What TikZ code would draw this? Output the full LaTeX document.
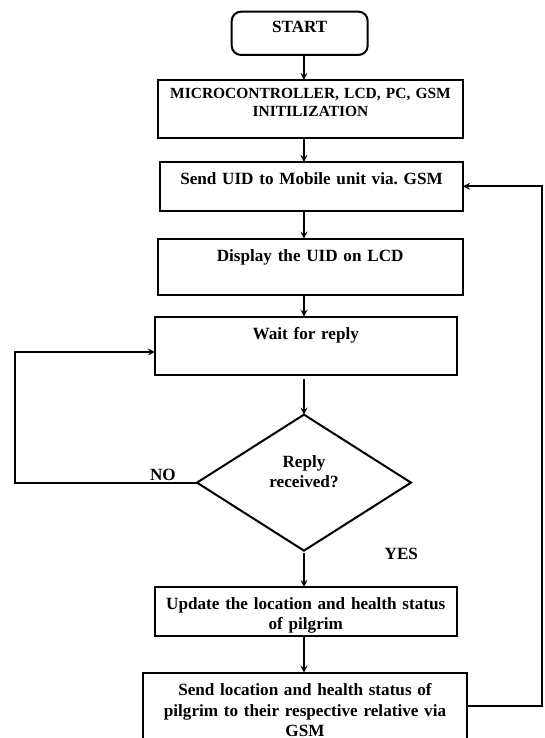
\documentclass[tikz,border=0pt]{standalone}
\usepackage{fontspec}
\setmainfont{Liberation Serif}
\usepackage{tikz}
\usetikzlibrary{shapes.geometric,arrows,positioning}
\tikzstyle{startstop} = [rectangle, rounded corners=7pt, text width=102pt, align=center, inner sep=0pt, outer sep=0pt, text height=15.5pt, text depth=17pt, draw=black, line width=1.5pt, font=\fontsize{12.86}{15.2}\selectfont\bfseries]
\tikzstyle{process} = [rectangle, align=center, inner sep=0pt, outer sep=0pt, text height=17pt, draw=black, line width=1.5pt, font=\fontsize{12.86}{15.2}\selectfont\bfseries]
\tikzstyle{decision} = [diamond, aspect=1.57, minimum width=160.5pt, minimum height=102pt, text width=70pt, align=center, inner sep=0pt, outer sep=0pt, text height=10pt, text depth=33pt, draw=black, line width=1.5pt, font=\fontsize{12.86}{15.2}\selectfont\bfseries]
\tikzstyle{lbl} = [inner sep=0pt, font=\fontsize{12.86}{15.2}\selectfont\bfseries]
\tikzstyle{arrow} = [line width=1.3pt,->,>=stealth]

\begin{document}
\frenchspacing
\begin{tikzpicture}[x=0.75pt,y=-0.75pt]
\useasboundingbox (0,0) rectangle (544,738);
\clip (0,0) rectangle (544,738);
\node (start) [startstop] at (299.7,33.3) {START};
\node (init) [process, text width=228.3pt, text height=14pt, text depth=29.5pt, font=\fontsize{11.6}{13.5}\selectfont\bfseries, below=18.75pt of start, xshift=8.1pt] {MICROCONTROLLER, LCD, PC, GSM\\ INITILIZATION};
\node (send) [process, text width=227.25pt, text depth=19.5pt, below=18pt of init, xshift=0.75pt] {Send UID to Mobile unit via. GSM};
\node (disp) [process, text width=228.75pt, text depth=25.2pt, below=21pt of send, xshift=-1pt] {Display the UID on LCD};
\node (wait) [process, text width=226.3pt, text depth=26.5pt, below=16.3pt of disp, xshift=-3.3pt] {Wait for reply};
\node (dec) [decision, below=30pt of wait, xshift=-1.35pt] {Reply\\ received?};
\node (upd) [process, text width=226.3pt, text height=16.8pt, text depth=20.25pt, below=27.2pt of dec, xshift=1.35pt] {Update the location and health status\\ of pilgrim};
\node (sendloc) [process, text width=243pt, text height=17.5pt, text depth=47.7pt, below=27.2pt of upd, xshift=-0.6pt] {Send location and health status of\\ pilgrim to their respective relative via\\ GSM};
\node (no) [lbl] at ([xshift=-25.5pt,yshift=5.5pt]dec.west) {NO};
\node (yes) [lbl] at ([xshift=73pt,yshift=-2.5pt]dec.south) {YES};
\coordinate (back) at (541.7,706);
\coordinate (noleft) at (15,352);

\draw[arrow] (start.south -| dec.north) -- (init.north -| dec.north);
\draw[arrow] (init.south -| dec.north) -- (send.north -| dec.north);
\draw[arrow] (send.south -| dec.north) -- (disp.north -| dec.north);
\draw[arrow] (disp.south -| dec.north) -- (wait.north -| dec.north);
\draw[arrow, shorten <=3pt] (wait.south -| dec.north) -- (dec.north);
\draw[arrow, shorten <=2pt] (dec.south) -- (upd.north -| dec.south);
\draw[arrow] (upd.south -| dec.south) -- (sendloc.north -| dec.south);
\draw[arrow] (dec.west) -| (noleft) -- (noleft -| wait.west);
\draw[arrow] (sendloc.east |- back) -- (back) |- (send.east);
\end{tikzpicture}
\end{document}
